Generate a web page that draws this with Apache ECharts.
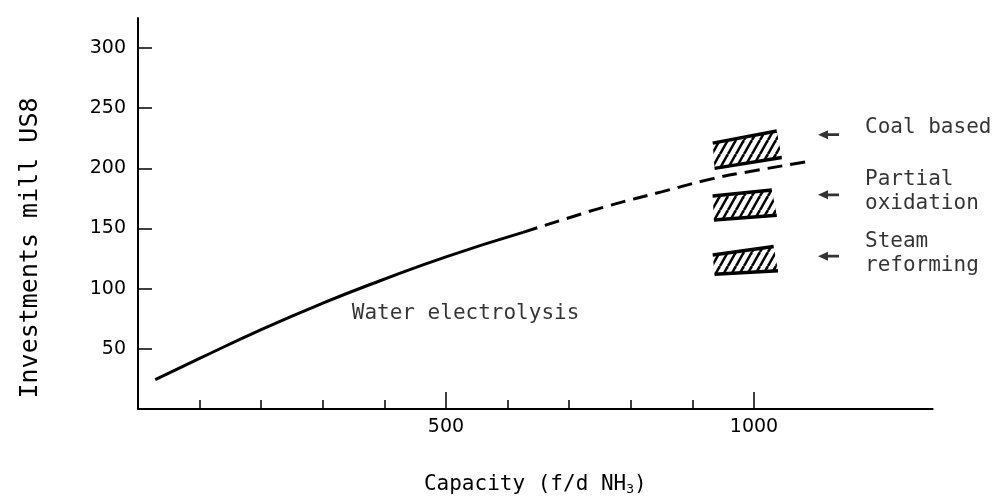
<!DOCTYPE html>
<html>
<head>
<meta charset="utf-8">
<script src="https://cdn.jsdelivr.net/npm/echarts@6/dist/echarts.min.js"></script>
<style>
  html, body { margin: 0; padding: 0; background: #fff; }
  #chart { width: 1000px; height: 501px; }
</style>
</head>
<body>
<div id="chart"></div>
<script>
// axis ticks
const xMinorTicks = [100, 200, 300, 400, 600, 700, 800, 900];
const xMajorTicks = [500, 1000];
const yTicks = [50, 100, 150, 200, 250, 300];

// water electrolysis curve (solid part, then dashed extrapolation)
const electrolysisX = [28, 100, 200, 300, 393, 500, 625];
const electrolysisY = [24.4, 42, 66, 88, 106.6, 126.5, 146.8];
const projectedX = [625, 700, 766, 850, 933, 1000, 1086];
const projectedY = [146.8, 159, 169.2, 180.5, 191.5, 198, 205.5];

// hatched ranges for the fossil routes (corners: top-left, top-right, bottom-right, bottom-left)
const processNames = ["Coal based", "Partial\noxidation", "Steam\nreforming"];
const boxTopLeft = [[933, 221], [933, 177], [933, 128]];
const boxTopRight = [[1037, 231], [1029, 182], [1032, 135]];
const boxBottomRight = [[1045, 209], [1037, 161], [1039, 115]];
const boxBottomLeft = [[936, 200], [935, 157], [936, 112]];
const arrowX = [1121, 1121, 1121];
const arrowY = [228, 178, 127];

const textFont = "DejaVu Sans Mono";
const numFont = "DejaVu Sans";

function makeHatch() {
  const c = document.createElement("canvas");
  c.width = 8;
  c.height = 14;
  const ctx = c.getContext("2d");
  ctx.strokeStyle = "#000";
  ctx.lineWidth = 2.6;
  [-8, 0, 8].forEach((dx) => {
    ctx.beginPath();
    ctx.moveTo(dx, 14);
    ctx.lineTo(dx + 8, 0);
    ctx.stroke();
  });
  return c;
}
const hatch = makeHatch();

const boxData = processNames.map((n, i) => [
  ...boxTopLeft[i], ...boxTopRight[i], ...boxBottomRight[i], ...boxBottomLeft[i],
]);
const labelOffsets = [[0, -7], [0, -3], [0, -3]];

const myChart = echarts.init(document.getElementById("chart"));
const config = {
  animation: false,
  backgroundColor: "#fff",
  grid: { left: 138, right: 67.4, top: 18, bottom: 88.7 },
  xAxis: [
    {
      type: "value",
      min: 0,
      max: 1290,
      position: "bottom",
      splitLine: { show: false },
      axisLine: { lineStyle: { color: "#000", width: 2 } },
      axisTick: {
        inside: true,
        length: 9,
        customValues: xMinorTicks,
        lineStyle: { color: "#000", width: 1.5 },
      },
      axisLabel: { show: false },
      name: "Capacity (f/d NH{sub|3})",
      nameLocation: "middle",
      nameGap: 64,
      nameTextStyle: {
        fontFamily: textFont,
        fontSize: 21,
        color: "#000",
        rich: {
          sub: { fontFamily: textFont, fontSize: 13, color: "#000", padding: [10, 0, 0, 0] },
        },
      },
    },
    {
      type: "value",
      min: 0,
      max: 1290,
      position: "bottom",
      splitLine: { show: false },
      axisLine: { show: false },
      axisTick: {
        inside: true,
        length: 17,
        customValues: xMajorTicks,
        lineStyle: { color: "#000", width: 1.5 },
      },
      axisLabel: {
        customValues: xMajorTicks,
        formatter: (v) => String(v),
        margin: 9,
        fontFamily: numFont,
        fontSize: 19,
        color: "#000",
      },
    },
  ],
  yAxis: {
    type: "value",
    min: 0,
    max: 325,
    splitLine: { show: false },
    axisLine: { show: true, lineStyle: { color: "#000", width: 2 } },
    axisTick: {
      inside: true,
      length: 14,
      customValues: yTicks,
      lineStyle: { color: "#000", width: 1.5 },
    },
    axisLabel: {
      customValues: yTicks,
      margin: 12,
      fontFamily: numFont,
      fontSize: 19,
      color: "#000",
    },
  },
  graphic: [
    {
      type: "text",
      x: 30,
      y: 248,
      rotation: Math.PI / 2,
      style: {
        text: "Investments mill US8",
        font: "25px " + textFont,
        fill: "#000",
        align: "center",
        verticalAlign: "middle",
      },
    },
  ],
  series: [
    {
      name: "Water electrolysis",
      type: "line",
      smooth: true,
      symbol: "none",
      data: electrolysisX.map((x, i) => [x, electrolysisY[i]]),
      lineStyle: { color: "#000", width: 3 },
    },
    {
      name: "Water electrolysis (extrapolated)",
      type: "line",
      smooth: true,
      symbol: "none",
      data: projectedX.map((x, i) => [x, projectedY[i]]),
      lineStyle: { color: "#000", width: 3, type: [15, 8] },
    },
    {
      name: "ranges",
      type: "custom",
      data: boxData,
      renderItem(params, api) {
        const p = [0, 1, 2, 3].map((k) => api.coord([api.value(2 * k), api.value(2 * k + 1)]));
        return {
          type: "group",
          children: [
            {
              type: "polygon",
              shape: { points: p },
              style: { fill: { image: hatch, repeat: "repeat" }, stroke: null },
            },
            {
              type: "line",
              shape: { x1: p[0][0], y1: p[0][1], x2: p[1][0], y2: p[1][1] },
              style: { stroke: "#000", lineWidth: 3.5 },
            },
            {
              type: "line",
              shape: { x1: p[3][0], y1: p[3][1], x2: p[2][0], y2: p[2][1] },
              style: { stroke: "#000", lineWidth: 3.5 },
            },
          ],
        };
      },
    },
    {
      name: "arrows",
      type: "scatter",
      symbol: "path://M0,5 L10,0 L10,3.5 L21,3.5 L21,6.5 L10,6.5 L10,10 Z",
      symbolSize: [21, 9],
      itemStyle: { color: "#000" },
      data: processNames.map((n, i) => ({
        value: [arrowX[i], arrowY[i]],
        label: { formatter: n, offset: labelOffsets[i] },
      })),
      label: {
        show: true,
        position: "right",
        distance: 26,
        align: "left",
        fontFamily: textFont,
        fontSize: 21,
        lineHeight: 24,
        color: "#000",
      },
    },
    {
      name: "curve label",
      type: "scatter",
      symbolSize: 0,
      data: [{ value: [347, 79], label: { formatter: "Water electrolysis" } }],
      label: {
        show: true,
        position: "right",
        distance: 0,
        fontFamily: textFont,
        fontSize: 21,
        color: "#000",
      },
    },
  ],
};
myChart.setOption(config);
</script>
</body>
</html>
